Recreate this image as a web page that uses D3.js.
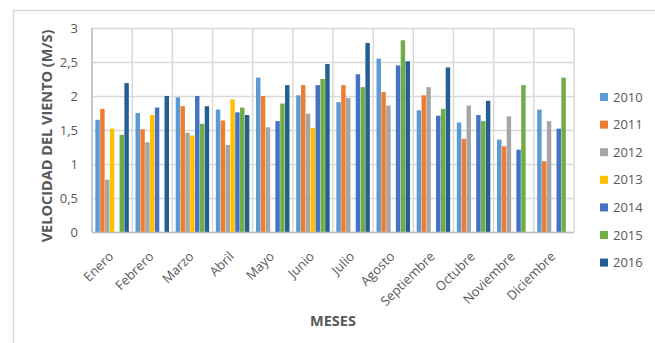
<!DOCTYPE html>
<html>
<head>
<meta charset="utf-8">
<script src="https://cdn.jsdelivr.net/npm/d3@7"></script>
<style>
  html, body { margin: 0; padding: 0; background: #fff; }
  svg { display: block; font-family: "Open Sans", "Liberation Sans", sans-serif; }
</style>
</head>
<body>
<svg id="chart" width="655" height="343"></svg>
<script>
// Monthly mean wind speed (m/s) per year
const months = ["Enero", "Febrero", "Marzo", "Abril", "Mayo", "Junio", "Julio",
                "Agosto", "Septiembre", "Octubre", "Noviembre", "Diciembre"];
const years = ["2010", "2011", "2012", "2013", "2014", "2015", "2016"];
const colors = ["#5B9BD5", "#ED7D31", "#A5A5A5", "#FFC000", "#4472C4", "#70AD47", "#255E91"];

const v2010 = [1.65, 1.75, 1.98, 1.80, 2.27, 2.01, 1.91, 2.55, 1.79, 1.61, 1.36, 1.80];
const v2011 = [1.81, 1.51, 1.85, 1.64, 2.00, 2.16, 2.16, 2.06, 2.01, 1.37, 1.26, 1.04];
const v2012 = [0.77, 1.32, 1.46, 1.28, 1.54, 1.74, 1.97, 1.86, 2.13, 1.86, 1.70, 1.63];
const v2013 = [1.52, 1.72, 1.42, 1.95, 0, 1.53, 0, 0, 0, 0, 0, 0];
const v2014 = [0, 1.83, 2.00, 1.76, 1.63, 2.16, 2.32, 2.45, 1.71, 1.72, 1.21, 1.52];
const v2015 = [1.43, 0, 1.59, 1.83, 1.89, 2.25, 2.13, 2.82, 1.81, 1.63, 2.16, 2.27];
const v2016 = [2.19, 2.00, 1.85, 1.72, 2.16, 2.47, 2.78, 2.51, 2.42, 1.93, 0, 0];
const series = [v2010, v2011, v2012, v2013, v2014, v2015, v2016];

const yTicks = [0, 0.5, 1, 1.5, 2, 2.5, 3];

const svg = d3.select("#chart");
const textColor = "#595959";
const gridColor = "#d9d9d9";

// outer chart frame
svg.append("rect")
  .attr("x", 13.5).attr("y", 10.5)
  .attr("width", 700).attr("height", 400)
  .attr("fill", "none").attr("stroke", gridColor).attr("stroke-width", 1.5);

const plot = { left: 92, right: 574, top: 28, bottom: 232 };

const x0 = d3.scaleBand().domain(months).range([plot.left, plot.right]).paddingInner(0).paddingOuter(0);
const x1 = d3.scaleBand().domain(years).range([0, x0.bandwidth()]).paddingInner(0).paddingOuter(0.65);
const y = d3.scaleLinear().domain([0, 3]).range([plot.bottom, plot.top]);

const fmt = d => String(d).replace(".", ",");

// horizontal gridlines
svg.append("g")
  .selectAll("line").data(yTicks).join("line")
  .attr("x1", plot.left).attr("x2", plot.right)
  .attr("y1", d => Math.round(y(d)) + 0.5).attr("y2", d => Math.round(y(d)) + 0.5)
  .attr("stroke", gridColor).attr("stroke-width", 1.5);

// vertical gridlines at month boundaries
svg.append("g")
  .selectAll("line").data(d3.range(months.length + 1)).join("line")
  .attr("x1", i => plot.left + i * x0.bandwidth())
  .attr("x2", i => plot.left + i * x0.bandwidth())
  .attr("y1", plot.top).attr("y2", plot.bottom)
  .attr("stroke", gridColor).attr("stroke-width", 1.5);

// bars
const groups = svg.append("g").selectAll("g").data(months).join("g")
  .attr("transform", d => `translate(${x0(d)},0)`);

groups.selectAll("rect")
  .data((m, mi) => years.map((yr, si) => ({ yr, si, v: series[si][mi] })).filter(d => d.v > 0))
  .join("rect")
  .attr("x", d => x1(d.yr) + 0.2)
  .attr("width", x1.bandwidth() - 0.4)
  .attr("y", d => y(d.v))
  .attr("height", d => y(0) - y(d.v))
  .attr("fill", d => colors[d.si]);

// axes
const yAxis = d3.axisLeft(y).tickValues(yTicks).tickFormat(fmt).tickSize(0).tickPadding(14);
const gy = svg.append("g").attr("transform", `translate(${plot.left},0)`).call(yAxis);
gy.select(".domain").remove();
gy.selectAll("text").attr("fill", textColor).style("font-size", "13px")
  .style("font-family", "'Open Sans', sans-serif");

svg.append("line")
  .attr("x1", plot.left).attr("x2", plot.left)
  .attr("y1", plot.top).attr("y2", plot.bottom + 0.5)
  .attr("stroke", "#bfbfbf").attr("stroke-width", 1.5);
svg.append("line")
  .attr("x1", plot.left).attr("x2", plot.right)
  .attr("y1", plot.bottom + 0.5).attr("y2", plot.bottom + 0.5)
  .attr("stroke", "#bfbfbf").attr("stroke-width", 1.5);

// month labels, rotated
svg.append("g").selectAll("text").data(months).join("text")
  .attr("transform", d => `translate(${x0(d) + x0.bandwidth() / 2 - 1},${plot.bottom + 22}) rotate(-45)`)
  .attr("text-anchor", "end")
  .attr("dy", "0.35em")
  .attr("fill", textColor)
  .style("font-size", "13px")
  .text(d => d);

// axis titles
svg.append("text")
  .attr("x", (plot.left + plot.right) / 2).attr("y", 326)
  .attr("text-anchor", "middle")
  .attr("fill", textColor).style("font-size", "14.5px").style("font-weight", "bold")
  .text("MESES");

svg.append("text")
  .attr("transform", `translate(52,${(plot.top + plot.bottom) / 2 + 6}) rotate(-90)`)
  .attr("text-anchor", "middle")
  .attr("fill", textColor).style("font-size", "14.5px").style("font-weight", "bold")
  .text("VELOCIDAD DEL VIENTO (M/S)");

// legend
const legend = svg.append("g").selectAll("g").data(years).join("g")
  .attr("transform", (d, i) => `translate(600,${97 + i * 27.6})`);
legend.append("rect")
  .attr("x", 0).attr("y", -4).attr("width", 8).attr("height", 8)
  .attr("fill", (d, i) => colors[i]);
legend.append("text")
  .attr("x", 13).attr("dy", "0.35em")
  .attr("fill", textColor).style("font-size", "13px")
  .text(d => d);
</script>
</body>
</html>
